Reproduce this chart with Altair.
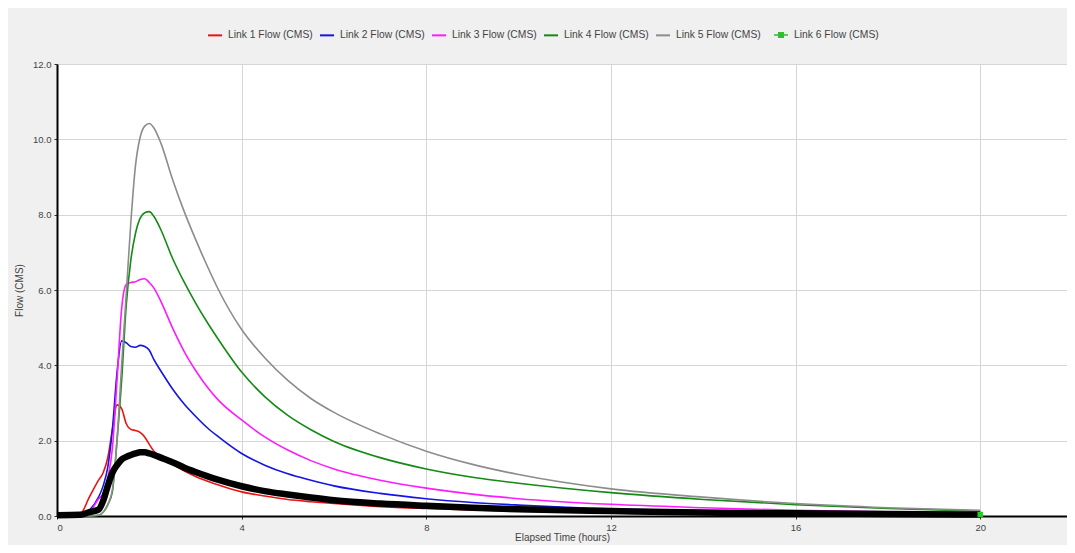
import altair as alt
import pandas as pd

# Elapsed time (hours)
times = [0, 0.5, 0.7, 0.9, 1.0, 1.1, 1.2, 1.3, 1.4, 1.5, 1.6, 1.7, 1.8, 1.9, 2.0, 2.1,
         2.25, 2.5, 2.75, 3.0, 3.25, 3.5, 4.0, 4.5, 5.0, 5.5, 6.0, 7.0, 8.0, 9.0, 10.0,
         12.0, 14.0, 16.0, 18.0, 20.0]

link1 = [0, 0.05, 0.5, 0.95, 1.15, 1.55, 2.3, 2.95, 2.85, 2.45, 2.3, 2.27, 2.22, 2.1, 1.9, 1.72,
         1.58, 1.38, 1.2, 1.05, 0.93, 0.82, 0.64, 0.53, 0.44, 0.38, 0.33, 0.25, 0.2, 0.16, 0.13,
         0.09, 0.06, 0.05, 0.04, 0.03]
link2 = [0, 0, 0.15, 0.5, 0.8, 1.3, 2.3, 3.8, 4.65, 4.6, 4.5, 4.48, 4.53, 4.5, 4.4, 4.15,
         3.85, 3.38, 2.98, 2.65, 2.35, 2.1, 1.66, 1.35, 1.12, 0.95, 0.8, 0.6, 0.46, 0.36, 0.29,
         0.19, 0.13, 0.09, 0.06, 0.04]
link3 = [0, 0, 0.1, 0.45, 0.6, 1.0, 1.8, 3.6, 5.5, 6.15, 6.2, 6.22, 6.28, 6.3, 6.2, 6.05,
         5.7, 5.0, 4.38, 3.87, 3.43, 3.07, 2.55, 2.1, 1.75, 1.47, 1.25, 0.95, 0.74, 0.58, 0.46,
         0.31, 0.22, 0.15, 0.11, 0.08]
link4 = [0, 0, 0, 0.02, 0.1, 0.3, 0.65, 2.0, 3.6, 5.6, 6.8, 7.5, 7.9, 8.05, 8.08, 7.95,
         7.6, 6.85, 6.22, 5.66, 5.15, 4.68, 3.82, 3.17, 2.67, 2.29, 1.98, 1.55, 1.25, 1.03, 0.87,
         0.62, 0.44, 0.3, 0.2, 0.13]
link5 = [0, 0, 0, 0.02, 0.1, 0.3, 0.7, 2.0, 4.0, 5.9, 7.8, 9.3, 10.05, 10.35, 10.42, 10.3,
         9.9, 8.95, 8.1, 7.35, 6.65, 6.0, 4.95, 4.2, 3.6, 3.12, 2.75, 2.18, 1.72, 1.37, 1.1,
         0.72, 0.5, 0.33, 0.22, 0.15]
link6 = [0.02, 0.03, 0.1, 0.17, 0.4, 0.8, 1.15, 1.35, 1.5, 1.57, 1.62, 1.66, 1.69, 1.69, 1.66, 1.62,
         1.55, 1.43, 1.29, 1.17, 1.06, 0.96, 0.79, 0.66, 0.57, 0.49, 0.42, 0.33, 0.27, 0.22, 0.18,
         0.13, 0.09, 0.07, 0.05, 0.04]

names = ["Link 1 Flow (CMS)", "Link 2 Flow (CMS)", "Link 3 Flow (CMS)",
         "Link 4 Flow (CMS)", "Link 5 Flow (CMS)", "Link 6 Flow (CMS)"]
colors = ["#ee1111", "#1414e6", "#ff1aff", "#138a13", "#8c8c8c"]
link6_legend_color = "#2fbf2f"
series_values = [link1, link2, link3, link4, link5, link6]

x_ticks = [0, 4, 8, 12, 16, 20]
y_ticks = [0, 2, 4, 6, 8, 10, 12]

rows = []
for name, vals in zip(names, series_values):
    for t, v in zip(times, vals):
        rows.append({"series": name, "time": t, "flow": v})
df = pd.DataFrame(rows)

FONT = "Liberation Sans"
TXT = "#444444"

x_enc = alt.X("time:Q", scale=alt.Scale(domain=[0, 21.88], nice=False, zero=False),
              axis=alt.Axis(values=x_ticks, title="Elapsed Time (hours)", format="d",
                            labelFontSize=9.5, titleFontSize=10, titleFontWeight="normal",
                            labelColor=TXT, titleColor=TXT,
                            domainColor="black", domainWidth=2, tickColor="#333333",
                            tickSize=3, titlePadding=1, labelPadding=3,
                            gridColor="#d6d6d6", gridWidth=1))
y_enc = alt.Y("flow:Q", scale=alt.Scale(domain=[0, 12], nice=False),
              axis=alt.Axis(values=y_ticks, title="Flow (CMS)", format=".1f",
                            labelFontSize=9.5, titleFontSize=10, titleFontWeight="normal",
                            labelColor=TXT, titleColor=TXT,
                            domainColor="black", domainWidth=2, tickColor="#333333",
                            tickSize=3, titlePadding=8, labelPadding=3,
                            gridColor="#d6d6d6", gridWidth=1))

base = alt.Chart(df)

lines = base.transform_filter(alt.datum.series != names[5]).mark_line(
    strokeWidth=1.6, interpolate="monotone"
).encode(
    x=x_enc, y=y_enc,
    color=alt.Color("series:N", scale=alt.Scale(domain=names[:5], range=colors),
                    legend=alt.Legend(title=None, orient="none", direction="horizontal",
                                      legendX=150, legendY=-37, labelFontSize=10.3,
                                      labelColor=TXT, symbolType="stroke",
                                      symbolSize=196, symbolStrokeWidth=2,
                                      columnPadding=3, labelOffset=5, labelLimit=200)),
)

black = base.transform_filter(alt.datum.series == names[5]).mark_line(
    color="black", strokeWidth=6.5, interpolate="monotone"
).encode(x="time:Q", y="flow:Q")

square_path = "M-1,0H1M-0.32,-0.32H0.32V0.32H-0.32Z"

legend6 = base.transform_filter(
    (alt.datum.series == names[5]) & (alt.datum.time == 20)
).mark_point(fill=link6_legend_color, stroke=link6_legend_color, strokeWidth=1.5,
             opacity=0).encode(
    x="time:Q", y="flow:Q",
    shape=alt.Shape("series:N", scale=alt.Scale(domain=[names[5]], range=[square_path]),
                    legend=alt.Legend(title=None, orient="none", direction="horizontal",
                                      legendX=716, legendY=-37, labelFontSize=10.3,
                                      labelColor=TXT, symbolSize=196,
                                      symbolStrokeWidth=1.5,
                                      symbolOpacity=1, labelOffset=5, labelLimit=200)),
)

endpoint = base.transform_filter(
    (alt.datum.series == names[5]) & (alt.datum.time == 20)
).mark_square(color="#22cc22", size=30, opacity=1).encode(x="time:Q", y="flow:Q")

chart = alt.layer(lines, black, endpoint, legend6).properties(
    width=1010, height=452,
    autosize=alt.AutoSizeParams(type="none"),
    padding={"left": 49, "top": 56, "right": 0, "bottom": 29},
    background="#f0f0f0",
).configure(font=FONT).configure_view(fill="white", stroke="#777777", strokeWidth=1)

chart.save("out.html", embed_options={"renderer": "svg", "actions": False})
